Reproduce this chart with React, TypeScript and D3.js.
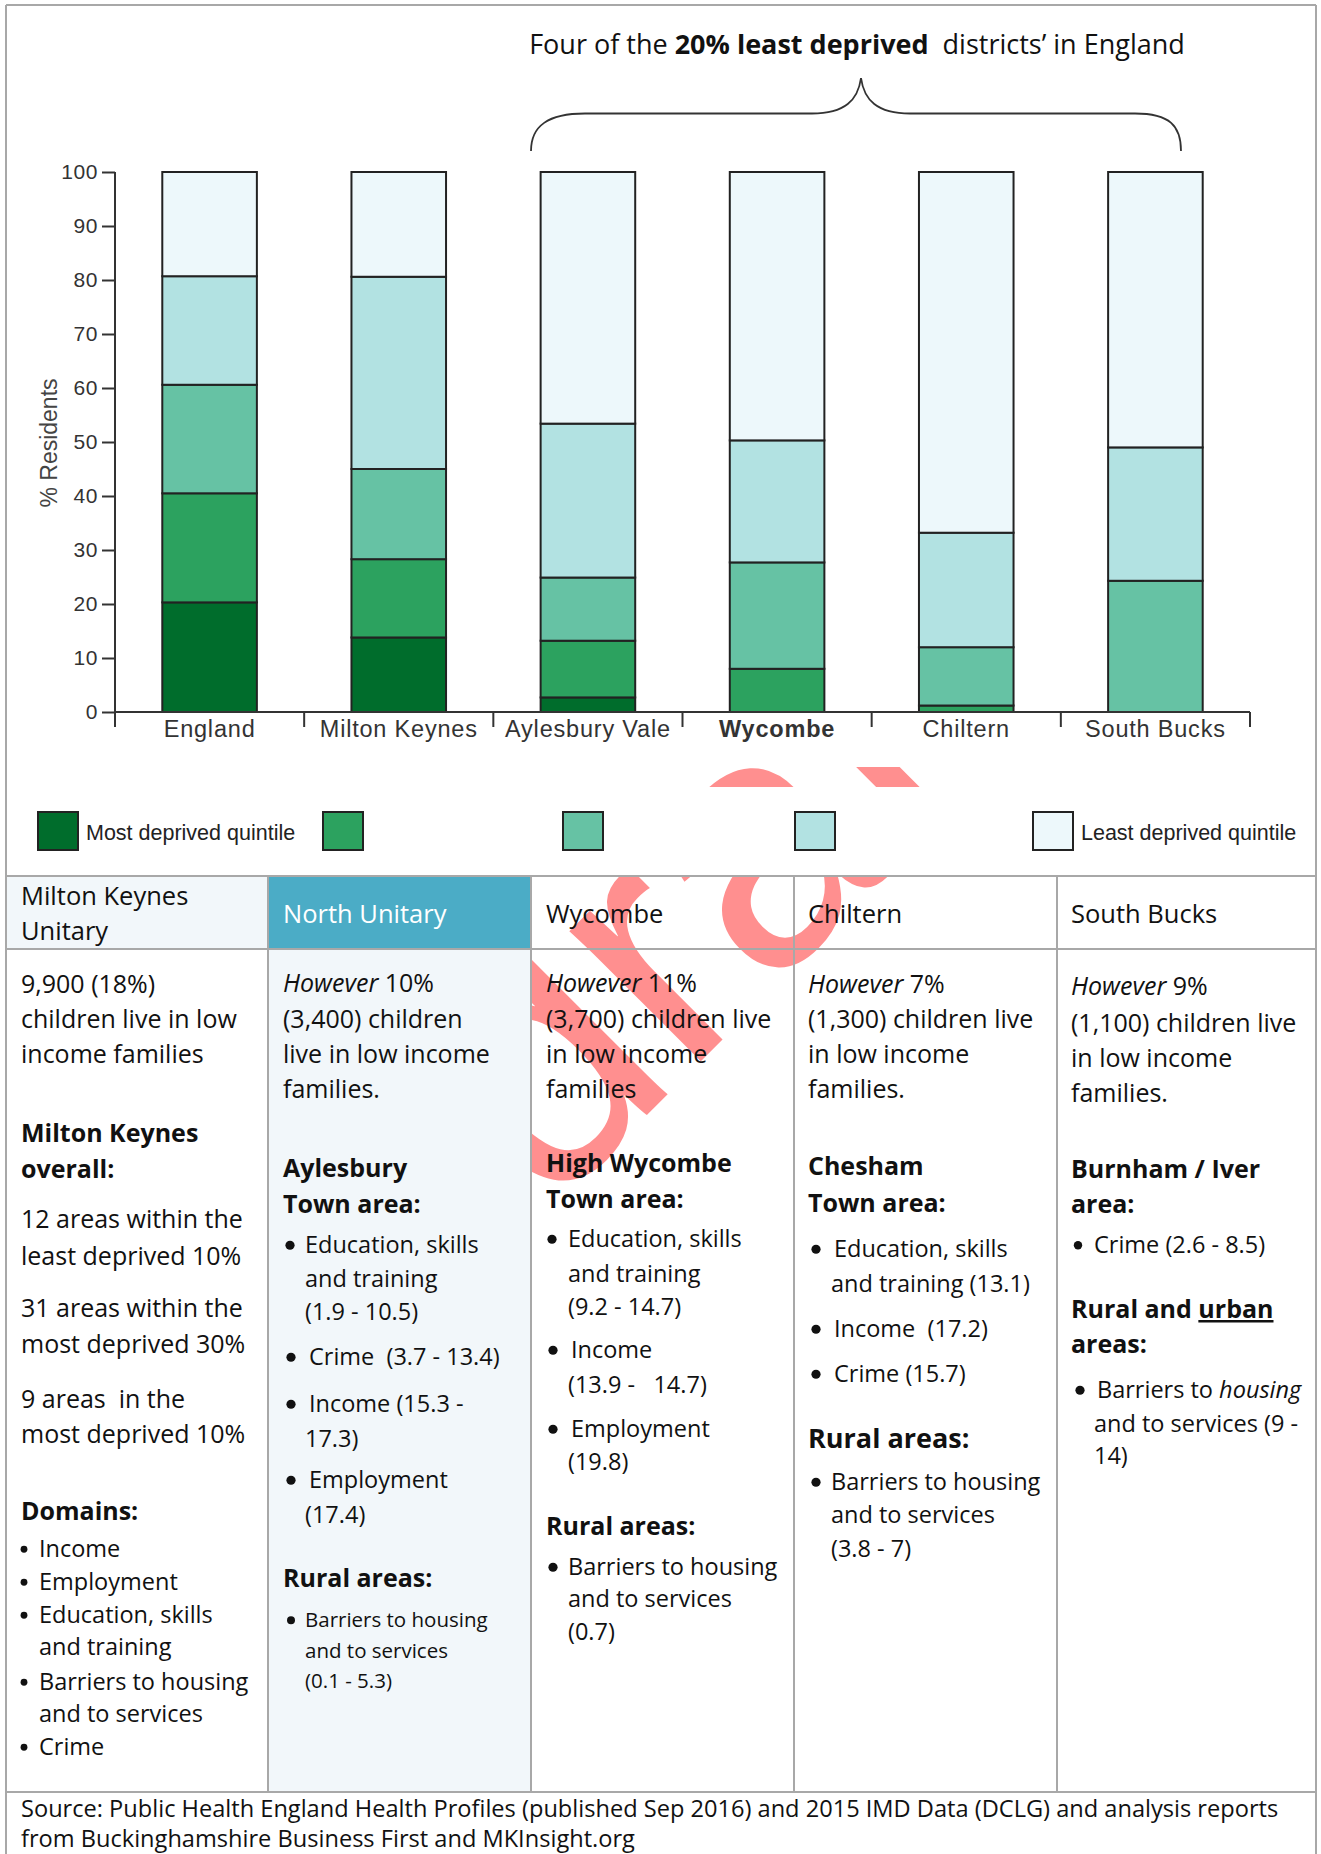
import { useEffect, useRef } from 'react';
import * as d3 from 'd3';

// Chart data: % residents per deprivation quintile (IMD 2015)
const categories = ['England', 'Milton Keynes', 'Aylesbury Vale', 'Wycombe', 'Chiltern', 'South Bucks'];
const quintile1 = [20.3, 13.8, 2.7, 0, 0, 0]; // most deprived
const quintile2 = [20.2, 14.5, 10.5, 8.0, 1.2, 0];
const quintile3 = [20.1, 16.7, 11.7, 19.7, 10.8, 24.3];
const quintile4 = [20.1, 35.6, 28.5, 22.6, 21.2, 24.7];
const quintile5 = [19.3, 19.4, 46.6, 49.7, 66.8, 51.0]; // least deprived
const quintileLabels = ['Most deprived quintile', '', '', '', 'Least deprived quintile'];
const yTicks = [0, 10, 20, 30, 40, 50, 60, 70, 80, 90, 100];
const colors = ['#006d2c', '#2ca25f', '#66c2a4', '#b2e2e2', '#edf8fb'];

const W = 1321;
const H = 1854;
const FONT = '"Open Sans", "Noto Sans", sans-serif';
const CHART_FONT = '"Liberation Sans", Arial, sans-serif';
const GRID = '#a8a8a8';

type Part = string | [string, 'i' | 'u' | 'b'];
type Line = { x: number; y: number; s?: number; b?: boolean; fill?: string; dot?: [number, number]; p: string | Part[] };

const tableLines: Line[] = [
  // headers
  { x: 21, y: 905, s: 25.5, p: 'Milton Keynes' },
  { x: 21, y: 940, s: 25.5, p: 'Unitary' },
  { x: 283, y: 923, s: 25.5, p: 'North Unitary', fill: '#fff' },
  { x: 546, y: 923, s: 25.5, p: 'Wycombe' },
  { x: 808, y: 923, s: 25.5, p: 'Chiltern' },
  { x: 1071, y: 923, s: 25.5, p: 'South Bucks' },
  // Milton Keynes
  { x: 21, y: 993, p: '9,900 (18%)' },
  { x: 21, y: 1028, p: 'children live in low' },
  { x: 21, y: 1063, p: 'income families' },
  { x: 21, y: 1142, b: true, p: 'Milton Keynes' },
  { x: 21, y: 1178, b: true, p: 'overall:' },
  { x: 21, y: 1228, p: '12 areas within the' },
  { x: 21, y: 1265, p: 'least deprived 10%' },
  { x: 21, y: 1317, p: '31 areas within the' },
  { x: 21, y: 1353, p: 'most deprived 30%' },
  { x: 21, y: 1408, p: '9 areas  in the' },
  { x: 21, y: 1443, p: 'most deprived 10%' },
  { x: 21, y: 1520, b: true, p: 'Domains:' },
  { x: 39, y: 1557, s: 23.5, dot: [24, 3.4], p: 'Income' },
  { x: 39, y: 1590, s: 23.5, dot: [24, 3.4], p: 'Employment' },
  { x: 39, y: 1623, s: 23.5, dot: [24, 3.4], p: 'Education, skills' },
  { x: 39, y: 1655, s: 23.5, p: 'and training' },
  { x: 39, y: 1690, s: 23.5, dot: [24, 3.4], p: 'Barriers to housing' },
  { x: 39, y: 1722, s: 23.5, p: 'and to services' },
  { x: 39, y: 1755, s: 23.5, dot: [24, 3.4], p: 'Crime' },
  // North Unitary
  { x: 283, y: 992, p: [['However', 'i'], ' 10%'] },
  { x: 283, y: 1028, p: '(3,400) children' },
  { x: 283, y: 1063, p: 'live in low income' },
  { x: 283, y: 1098, p: 'families.' },
  { x: 283, y: 1177, b: true, p: 'Aylesbury' },
  { x: 283, y: 1213, b: true, p: 'Town area:' },
  { x: 305, y: 1253, s: 23.5, dot: [290, 4.6], p: 'Education, skills' },
  { x: 305, y: 1287, s: 23.5, p: 'and training' },
  { x: 305, y: 1320, s: 23.5, p: '(1.9 - 10.5)' },
  { x: 309, y: 1365, s: 23.5, dot: [291, 4.6], p: 'Crime  (3.7 - 13.4)' },
  { x: 309, y: 1412, s: 23.5, dot: [291, 4.6], p: 'Income (15.3 -' },
  { x: 305, y: 1447, s: 23.5, p: '17.3)' },
  { x: 309, y: 1488, s: 23.5, dot: [291, 4.6], p: 'Employment' },
  { x: 305, y: 1523, s: 23.5, p: '(17.4)' },
  { x: 283, y: 1587, b: true, p: 'Rural areas:' },
  { x: 305, y: 1627, s: 20.5, dot: [291, 4], p: 'Barriers to housing' },
  { x: 305, y: 1658, s: 20.5, p: 'and to services' },
  { x: 305, y: 1688, s: 20.5, p: '(0.1 - 5.3)' },
  // Wycombe
  { x: 546, y: 992, p: [['However', 'i'], ' 11%'] },
  { x: 546, y: 1028, p: '(3,700) children live' },
  { x: 546, y: 1063, p: 'in low income' },
  { x: 546, y: 1098, p: 'families' },
  { x: 546, y: 1172, b: true, p: 'High Wycombe' },
  { x: 546, y: 1208, b: true, p: 'Town area:' },
  { x: 568, y: 1247, s: 23.5, dot: [552, 4.6], p: 'Education, skills' },
  { x: 568, y: 1282, s: 23.5, p: 'and training' },
  { x: 568, y: 1315, s: 23.5, p: '(9.2 - 14.7)' },
  { x: 571, y: 1358, s: 23.5, dot: [553, 4.6], p: 'Income' },
  { x: 568, y: 1393, s: 23.5, p: '(13.9 -   14.7)' },
  { x: 571, y: 1437, s: 23.5, dot: [553, 4.6], p: 'Employment' },
  { x: 568, y: 1470, s: 23.5, p: '(19.8)' },
  { x: 546, y: 1535, b: true, p: 'Rural areas:' },
  { x: 568, y: 1575, s: 23.5, dot: [553, 4.6], p: 'Barriers to housing' },
  { x: 568, y: 1607, s: 23.5, p: 'and to services' },
  { x: 568, y: 1640, s: 23.5, p: '(0.7)' },
  // Chiltern
  { x: 808, y: 993, p: [['However', 'i'], ' 7%'] },
  { x: 808, y: 1028, p: '(1,300) children live' },
  { x: 808, y: 1063, p: 'in low income' },
  { x: 808, y: 1098, p: 'families.' },
  { x: 808, y: 1175, b: true, p: 'Chesham' },
  { x: 808, y: 1212, b: true, p: 'Town area:' },
  { x: 834, y: 1257, s: 23.5, dot: [816, 4.6], p: 'Education, skills' },
  { x: 831, y: 1292, s: 23.5, p: 'and training (13.1)' },
  { x: 834, y: 1337, s: 23.5, dot: [816, 4.6], p: 'Income  (17.2)' },
  { x: 834, y: 1382, s: 23.5, dot: [816, 4.6], p: 'Crime (15.7)' },
  { x: 808, y: 1448, s: 27, b: true, p: 'Rural areas:' },
  { x: 831, y: 1490, s: 23.5, dot: [816, 4.6], p: 'Barriers to housing' },
  { x: 831, y: 1523, s: 23.5, p: 'and to services' },
  { x: 831, y: 1557, s: 23.5, p: '(3.8 - 7)' },
  // South Bucks
  { x: 1071, y: 995, p: [['However', 'i'], ' 9%'] },
  { x: 1071, y: 1032, p: '(1,100) children live' },
  { x: 1071, y: 1067, p: 'in low income' },
  { x: 1071, y: 1102, p: 'families.' },
  { x: 1071, y: 1178, b: true, p: 'Burnham / Iver' },
  { x: 1071, y: 1213, b: true, p: 'area:' },
  { x: 1094, y: 1253, s: 23.5, dot: [1078, 4.2], p: 'Crime (2.6 - 8.5)' },
  { x: 1071, y: 1318, b: true, p: ['Rural and ', ['urban', 'u']] },
  { x: 1071, y: 1353, b: true, p: 'areas:' },
  { x: 1097, y: 1398, s: 23.5, dot: [1080, 4.6], p: ['Barriers to ', ['housing', 'i']] },
  { x: 1094, y: 1432, s: 23.5, p: 'and to services (9 -' },
  { x: 1094, y: 1464, s: 23.5, p: '14)' },
  // source
  { x: 21, y: 1817, s: 23.6, p: 'Source: Public Health England Health Profiles (published Sep 2016) and 2015 IMD Data (DCLG) and analysis reports' },
  { x: 21, y: 1847, s: 23.6, p: 'from Buckinghamshire Business First and MKInsight.org' },
];

const colEdges = [6, 268, 531, 794, 1057, 1316];

function TextLine({ line }: { line: Line }) {
  const size = line.s ?? 25;
  const parts: Part[] = typeof line.p === 'string' ? [line.p] : line.p;
  return (
    <g>
      {line.dot && <circle cx={line.dot[0]} cy={line.y - size * 0.33} r={line.dot[1]} fill="#111" />}
      <text
        x={line.x}
        y={line.y}
        fontSize={size}
        fontWeight={line.b ? 700 : 400}
        fill={line.fill ?? '#111'}
        style={{ whiteSpace: 'pre' }}
      >
        {parts.map((part, i) =>
          typeof part === 'string' ? (
            <tspan key={i}>{part}</tspan>
          ) : (
            <tspan
              key={i}
              fontStyle={part[1] === 'i' ? 'italic' : undefined}
              fontWeight={part[1] === 'b' ? 700 : undefined}
              style={part[1] === 'u' ? { textDecoration: 'underline' } : undefined}
            >
              {part[0]}
            </tspan>
          )
        )}
      </text>
    </g>
  );
}

function StackedChart() {
  const gRef = useRef<SVGGElement>(null);

  useEffect(() => {
    const g = d3.select(gRef.current);
    g.selectAll('*').remove();

    const x = d3.scaleBand().domain(categories).range([115, 1250]);
    const y = d3.scaleLinear().domain([0, 100]).range([712, 172]);
    const barW = x.bandwidth() * 0.5;

    const keys = ['q1', 'q2', 'q3', 'q4', 'q5'];
    const table = categories.map((c, i) => ({
      category: c,
      q1: quintile1[i],
      q2: quintile2[i],
      q3: quintile3[i],
      q4: quintile4[i],
      q5: quintile5[i],
    }));
    const series = d3.stack<any>().keys(keys)(table);

    // Barras empilhadas
    series.forEach((s, k) => {
      g.append('g')
        .selectAll('rect')
        .data(s.filter((d) => d[1] - d[0] > 0))
        .join('rect')
        .attr('x', (d: any) => (x(d.data.category) as number) + (x.bandwidth() - barW) / 2)
        .attr('y', (d) => y(d[1]))
        .attr('width', barW)
        .attr('height', (d) => y(d[0]) - y(d[1]))
        .attr('fill', colors[k])
        .attr('stroke', '#222')
        .attr('stroke-width', 2);
    });

    // Eixo Y
    const yAxis = g.append('g')
      .attr('transform', 'translate(115,0)')
      .call(d3.axisLeft(y).tickValues(yTicks).tickSize(13).tickPadding(4).tickSizeOuter(0));
    yAxis.select('.domain').remove();
    yAxis.attr('font-family', CHART_FONT).attr('font-size', 21);
    yAxis.selectAll('line').attr('stroke', '#333').attr('stroke-width', 2);
    yAxis.selectAll('text').attr('fill', '#333').attr('letter-spacing', 0.6);

    g.append('line')
      .attr('x1', 115).attr('x2', 115)
      .attr('y1', y(100)).attr('y2', y(0) + 15)
      .attr('stroke', '#333').attr('stroke-width', 2);

    // Eixo X with ticks at category boundaries
    const [x0, x1] = x.range();
    g.append('line')
      .attr('x1', x0).attr('x2', x1)
      .attr('y1', y(0)).attr('y2', y(0))
      .attr('stroke', '#333').attr('stroke-width', 2);
    const bounds = [...categories.map((c) => x(c) as number), x1];
    g.append('g')
      .selectAll('line')
      .data(bounds)
      .join('line')
      .attr('x1', (d) => d).attr('x2', (d) => d)
      .attr('y1', y(0)).attr('y2', y(0) + 15)
      .attr('stroke', '#333').attr('stroke-width', 2);

    g.append('g')
      .selectAll('text')
      .data(categories)
      .join('text')
      .attr('x', (d) => (x(d) as number) + x.bandwidth() / 2)
      .attr('y', y(0) + 25)
      .attr('text-anchor', 'middle')
      .attr('font-family', CHART_FONT)
      .attr('font-size', 23.5)
      .attr('letter-spacing', 0.8)
      .attr('font-weight', (d) => (d === 'Wycombe' ? 700 : 400))
      .attr('fill', '#333')
      .text((d) => d);

    g.append('text')
      .attr('transform', `translate(57,${(y(0) + y(100)) / 2 + 1}) rotate(-90)`)
      .attr('text-anchor', 'middle')
      .attr('font-family', CHART_FONT)
      .attr('font-size', 23)
      .attr('fill', '#444')
      .text('% Residents');

    // Legenda
    const legendX = [38, 323, 563, 795, 1033];
    const leg = g.append('g');
    leg.selectAll('rect')
      .data(colors)
      .join('rect')
      .attr('x', (_, i) => legendX[i])
      .attr('y', 812)
      .attr('width', 40)
      .attr('height', 38)
      .attr('fill', (d) => d)
      .attr('stroke', '#222')
      .attr('stroke-width', 2);
    leg.selectAll('text')
      .data(quintileLabels)
      .join('text')
      .attr('x', (_, i) => legendX[i] + 48)
      .attr('y', 840)
      .attr('font-family', CHART_FONT)
      .attr('font-size', 21.5)
      .attr('fill', '#222')
      .text((d) => d);
  }, []);

  return <g ref={gRef} />;
}

export default function App() {
  return (
    <div>
      <style>{'body{margin:0;background:#fff}'}</style>
      <svg width={W} height={H} fontFamily={FONT} style={{ display: 'block' }}>
        <rect width={W} height={H} fill="#fff" />

        {/* watermark */}
        <text
          transform="translate(546,1216) rotate(-45)"
          fontFamily={CHART_FONT}
          fontSize={350}
          fill="#ff8f8f"
        >
          draft
        </text>

        {/* chart + legend images cover the watermark */}
        <rect x={7} y={6} width={1308} height={761} fill="#fff" />
        <rect x={7} y={787} width={1308} height={88} fill="#fff" />

        {/* title and brace */}
        <text x={857} y={54} textAnchor="middle" fontSize={27} fill="#111" style={{ whiteSpace: 'pre' }}>
          <tspan>Four of the </tspan>
          <tspan fontWeight={700}>20% least deprived</tspan>
          <tspan>{'  districts\u2019 in England'}</tspan>
        </text>
        <path
          d="M531,151 C531,126 548,113.5 585,113.5 L812,113.5 C845,113.5 858,100 861,78 C864,100 877,113.5 910,113.5 L1135,113.5 C1170,113.5 1181,126 1181,151"
          fill="none"
          stroke="#333"
          strokeWidth={1.8}
        />

        <StackedChart />

        {/* table fills */}
        <rect x={colEdges[0]} y={876} width={colEdges[1] - colEdges[0]} height={73} fill="#f2f7fa" />
        <rect x={colEdges[1]} y={876} width={colEdges[2] - colEdges[1]} height={73} fill="#4bacc6" />
        <rect x={colEdges[1]} y={949} width={colEdges[2] - colEdges[1]} height={843} fill="#f2f7fa" />

        {/* table grid */}
        <g stroke={GRID} strokeWidth={2}>
          {[876, 949, 1792].map((yy) => (
            <line key={yy} x1={6} x2={1316} y1={yy} y2={yy} />
          ))}
          {colEdges.slice(1, -1).map((xx) => (
            <line key={xx} x1={xx} x2={xx} y1={876} y2={1792} />
          ))}
          <line x1={6} x2={1316} y1={5} y2={5} />
          <line x1={6} x2={6} y1={5} y2={H} />
          <line x1={1316} x2={1316} y1={5} y2={H} />
        </g>

        {tableLines.map((line, i) => (
          <TextLine key={i} line={line} />
        ))}
      </svg>
    </div>
  );
}
